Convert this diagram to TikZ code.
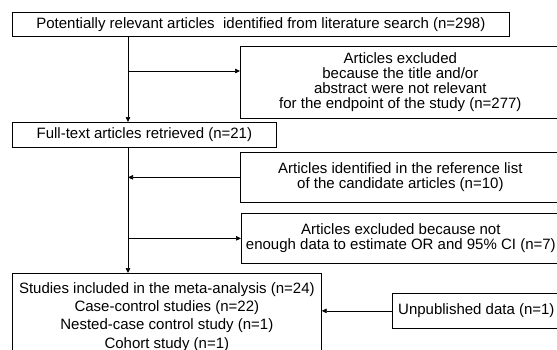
\documentclass[tikz,border=0pt]{standalone}
\usepackage{fontspec}
\setmainfont{Liberation Sans}
\usetikzlibrary{arrows.meta}
\tikzset{%
    base/.style = {
        draw,
        line width=0.7pt,
        inner sep=0pt,
        align=center,
        font=\fontsize{15}{15}\selectfont,
        anchor=north west,
    },
    box/.style = {
        base,
        rectangle,
    },
    flow/.style = {
        line width=0.7pt,
        -{Triangle[length=5pt,width=4.5pt]},
    },
}

\begin{document}
\begin{tikzpicture}[x=1pt,y=-1pt]
    \useasboundingbox (0,0) rectangle (557,349);
    \clip (0,0) rectangle (557,349);
    \node [box, minimum width=497pt, minimum height=24pt] (search) at (12,12)
        {Potentially relevant articles\ \ identified from literature search (n=298)};
    \node [box, minimum width=320pt, minimum height=72pt] (excluded) at (240,46)
        {Articles excluded\\because the title and/or\\abstract were not relevant\\for the endpoint of the study (n=277)};
    \node [box, minimum width=264pt, minimum height=25pt] (fulltext) at (12,122)
        {Full-text articles retrieved (n=21)};
    \node [box, minimum width=320pt, minimum height=50pt] (reflist) at (240,152)
        {Articles identified in the reference list\\of the candidate articles (n=10)};
    \node [box, minimum width=319pt, minimum height=50pt] (nodata) at (241,213)
        {Articles excluded because not\\enough data to estimate OR and 95\% CI (n=7)};
    \node [box, minimum width=309pt, minimum height=87pt, font=\fontsize{15}{18.3}\selectfont] (included) at (12,273)
        {Studies included in the meta-analysis (n=24)\\Case-control studies (n=22)\\Nested-case control study (n=1)\\Cohort study (n=1)};
    \node [box, minimum width=168pt, minimum height=35pt] (unpub) at (392,293)
        {Unpublished data (n=1)};

    % main line
    \coordinate (trunk) at (128,0);
    \coordinate (split) at (128,71);
    \draw [flow] (search.south -| trunk) -- (fulltext.north -| trunk);
    \draw [flow] (split) -- (split -| excluded.west);
    \draw [flow] (fulltext.south -| trunk) -- (included.north -| trunk);
    \draw [flow] (reflist.west) -- (reflist.west -| trunk);
    \draw [flow] (nodata.west -| trunk) -- (nodata.west);
    \draw [flow] (unpub.west) -- (unpub.west -| included.east);
\end{tikzpicture}
\end{document}
